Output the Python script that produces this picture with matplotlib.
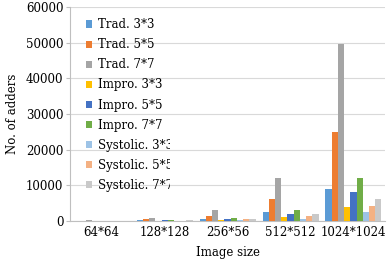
import numpy as np
from matplotlib import pyplot as plt
from matplotlib.transforms import Bbox

# image sizes on the x axis
sizes = ['64*64', '128*128', '256*56', '512*512', '1024*1024']

series = ['Trad. 3*3', 'Trad. 5*5', 'Trad. 7*7',
          'Impro. 3*3', 'Impro. 5*5', 'Impro. 7*7',
          'Systolic. 3*3', 'Systolic. 5*5', 'Systolic. 7*7']

# number of adders per series
trad3 = [40, 150, 500, 2500, 9000]
trad5 = [100, 400, 1500, 6000, 24800]
trad7 = [200, 750, 3000, 12000, 49500]
impro3 = [20, 80, 300, 1000, 4000]
impro5 = [40, 150, 600, 2000, 8000]
impro7 = [60, 200, 800, 3000, 12000]
sys3 = [20, 80, 300, 600, 2500]
sys5 = [40, 100, 400, 1500, 4300]
sys7 = [50, 150, 500, 2000, 6200]
values = [trad3, trad5, trad7, impro3, impro5, impro7, sys3, sys5, sys7]

colors = ['#5B9BD5', '#ED7D31', '#A5A5A5', '#FFC000', '#4472C4',
          '#70AD47', '#9DC3E6', '#F4B183', '#C9C9C9']

plt.rcParams['font.family'] = ['DejaVu Serif']

fig = plt.figure(figsize=(3.9, 2.62), dpi=100)
ax = fig.add_axes([0.18, 0.157, 0.807, 0.816])

x = np.arange(len(sizes))
n = len(series)
w = 0.89 / n
for i, (name, vals) in enumerate(zip(series, values)):
    ax.bar(x - 0.445 + w * (i + 0.5), vals, width=w, color=colors[i],
           label=name, zorder=3)

ax.set_xlim(-0.5, len(sizes) - 0.5)
ax.set_ylim(0, 60000)
ax.set_yticks(range(0, 60001, 10000))
ax.set_xticks(x)
ax.set_xticklabels(sizes, fontsize=8.5)
ax.tick_params(axis='y', labelsize=8.5, length=3, color='#BFBFBF', pad=2)
ax.tick_params(axis='x', length=0, pad=4)
ax.grid(axis='y', color='#D9D9D9', linewidth=0.8, zorder=0)
for s in ['top', 'right']:
    ax.spines[s].set_visible(False)
for s in ['left', 'bottom']:
    ax.spines[s].set_color('#BFBFBF')

ax.set_xlabel('Image size', fontsize=8.5, labelpad=5)
ax.set_ylabel('No. of adders', fontsize=8.5, labelpad=5)

leg = ax.legend(loc='upper left', bbox_to_anchor=(0.035, 0.97), frameon=False,
                fontsize=8.5, handlelength=0.55, handleheight=0.55,
                handletextpad=0.5, labelspacing=0.6, borderaxespad=0)
# the legend box in the original is cut off on the right
for t in leg.get_texts():
    t.set_clip_box(Bbox.from_extents(0, 0, 170, 262))
    t.set_clip_on(True)

plt.savefig('out.png', dpi=100)
